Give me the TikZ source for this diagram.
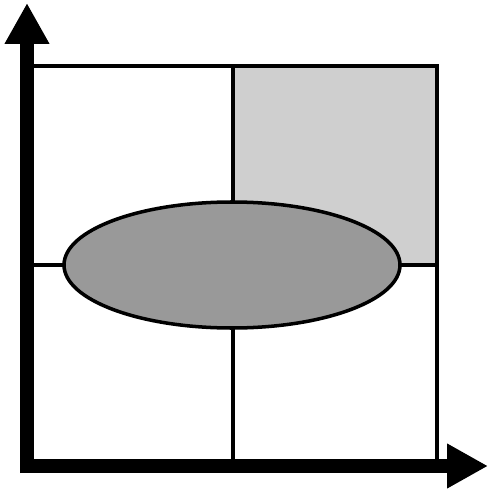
\documentclass[tikz,border=0pt]{standalone}
\usetikzlibrary{arrows.meta}
\definecolor{cellgray}{gray}{0.81}
\definecolor{blobgray}{gray}{0.6}

\begin{document}
\begin{tikzpicture}[x=0.02cm, y=-0.02cm, >={Triangle[length=0.82cm, width=0.84cm]}]
    \useasboundingbox (0,0) rectangle (488,489);

    \fill[cellgray] (233,66) rectangle (437,265);
    \draw[line width=2pt] (27,66) -- (437,66) -- (437,466);
    \draw[line width=2pt] (233,66) -- (233,466);
    \draw[line width=2pt] (27,265) -- (437,265);

    \draw[line width=2pt, fill=blobgray] (232,265) ellipse [x radius=168, y radius=63];

    \draw[->, line width=7.6pt] (27,473) -- (27,3);
    \draw[->, line width=7.6pt] (20,466) -- (488,466);
\end{tikzpicture}
\end{document}
